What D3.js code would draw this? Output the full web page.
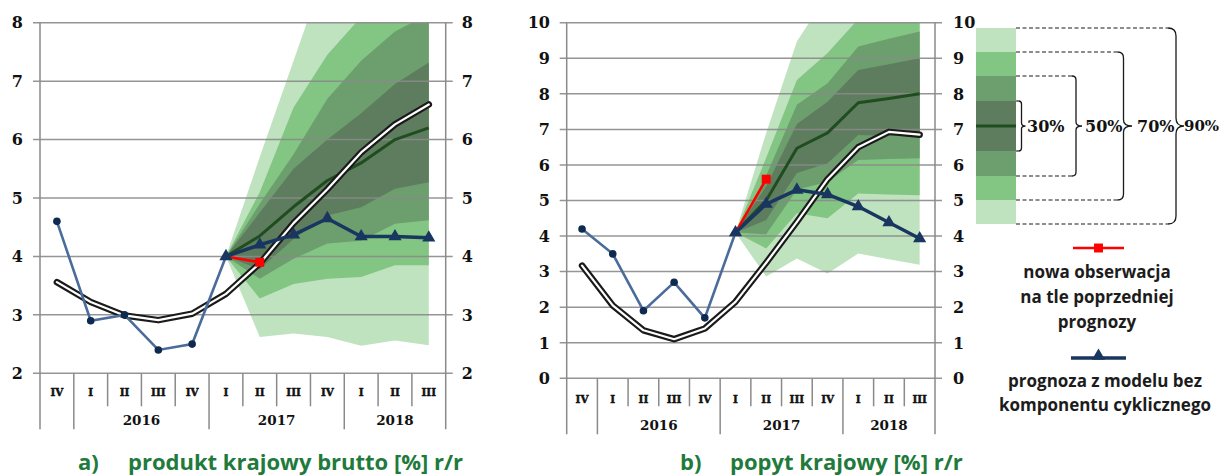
<!DOCTYPE html>
<html>
<head>
<meta charset="utf-8">
<script src="https://cdn.jsdelivr.net/npm/d3@7"></script>
<style>
  body { margin: 0; background: #ffffff; }
  svg { display: block; }
  .num { font-family: "DejaVu Serif", serif; font-weight: bold; fill: #111; }
  .cat { font-family: "DejaVu Serif Condensed", "DejaVu Serif", serif; font-weight: bold; fill: #111; stroke: #111; stroke-width: 0.45; }
  .sans { font-family: "Open Sans", "DejaVu Sans", sans-serif; font-weight: bold; }
</style>
</head>
<body>
<svg id="chart" width="1224" height="476"></svg>
<script>
// ---- categories ----
const quarters = ["IV", "I", "II", "III", "IV", "I", "II", "III", "IV", "I", "II", "III"];
const years = ["2016", "2017", "2018"];
const yearFirstQuarter = [1, 5, 9];   // index of the first quarter of each year
const fanStart = 5;                   // forecast fan begins at 2017 Q1

// ---- a) GDP y/y [%] ----
const gdpTicks   = [2, 3, 4, 5, 6, 7, 8];
const gdpActual  = [4.6, 2.9, 3.0, 2.4, 2.5, 4.0];
const gdpTrend   = [3.56, 3.22, 2.99, 2.91, 3.02, 3.36, 3.88, 4.57, 5.15, 5.78, 6.26, 6.60];
const gdpNoCycle = [4.0, 4.2, 4.37, 4.65, 4.34, 4.34, 4.32];
const gdpNewObs  = [4.0, 3.9];
const gdpMedian  = [4.0, 4.35, 4.85, 5.3, 5.6, 6.0, 6.2];
const gdp90Low   = [4.0, 2.62, 2.68, 2.62, 2.47, 2.56, 2.48];
const gdp90High  = [4.0, 5.7, 7.35, 9.0, 10.0, 10.5, 11.0];
const gdp70Low   = [4.0, 3.28, 3.53, 3.62, 3.65, 3.85, 3.85];
const gdp70High  = [4.0, 5.1, 6.55, 7.45, 8.1, 8.6, 9.0];
const gdp50Low   = [4.0, 3.62, 3.96, 4.22, 4.27, 4.56, 4.62];
const gdp50High  = [4.0, 4.9, 5.75, 6.7, 7.35, 7.85, 8.15];
const gdp30Low   = [4.0, 3.78, 4.3, 4.7, 4.84, 5.16, 5.27];
const gdp30High  = [4.0, 4.75, 5.5, 6.0, 6.45, 6.95, 7.32];

// ---- b) domestic demand y/y [%] ----
const ddTicks   = [0, 1, 2, 3, 4, 5, 6, 7, 8, 9, 10];
const ddActual  = [4.2, 3.5, 1.9, 2.7, 1.7, 4.1];
const ddTrend   = [3.17, 2.05, 1.35, 1.1, 1.4, 2.15, 3.25, 4.4, 5.6, 6.5, 6.93, 6.85];
const ddNoCycle = [4.1, 4.9, 5.3, 5.17, 4.83, 4.38, 3.93];
const ddNewObs  = [4.1, 5.6];
const ddMedian  = [4.1, 5.0, 6.47, 6.9, 7.75, 7.87, 8.0];
const dd90Low   = [4.1, 2.86, 3.37, 2.95, 3.51, 3.35, 3.19];
const dd90High  = [4.1, 6.9, 9.47, 10.8, 11.5, 12.0, 12.5];
const dd70Low   = [4.1, 3.65, 4.64, 4.5, 5.2, 5.17, 5.15];
const dd70High  = [4.1, 6.2, 8.39, 9.15, 10.1, 10.5, 10.8];
const dd50Low   = [4.1, 4.05, 5.3, 5.53, 6.14, 6.17, 6.19];
const dd50High  = [4.1, 5.7, 7.69, 8.3, 9.33, 9.55, 9.75];
const dd30Low   = [4.1, 4.45, 5.77, 6.05, 6.84, 6.82, 6.8];
const dd30High  = [4.1, 5.4, 7.15, 7.78, 8.67, 8.83, 9.0];

// ---- legend ----
const bandLevels = ["90%", "70%", "50%", "30%"];
const legendNewObs = ["nowa obserwacja", "na tle poprzedniej", "prognozy"];
const legendNoCycle = ["prognoza z modelu bez", "komponentu cyklicznego"];

// ---- styling ----
const bandColors = { "90%": "#bfe2bf", "70%": "#83c583", "50%": "#6d9e6d", "30%": "#5e7d5e" };
const gridColor = "#8a8a8a";
const medianColor = "#1f4d20";
const actualColor = "#4b6c9b";
const markerColor = "#0e2a4e";
const navy = "#18365f";
const red = "#ff0000";
const titleColor = "#1f7a3c";

const svg = d3.select("#chart");

function drawPanel(cfg) {
  const g = svg.append("g");
  const x = d3.scaleBand().domain(d3.range(quarters.length)).range([cfg.x0, cfg.x1]);
  const y = d3.scaleLinear().domain(cfg.domain).range([cfg.yBottom, cfg.yTop]);
  const bw = x.bandwidth();
  const cx = i => x(i) + bw / 2;

  const clipId = "clip-" + cfg.id;
  svg.append("clipPath").attr("id", clipId)
    .append("rect")
    .attr("x", cfg.x0).attr("y", cfg.yTop)
    .attr("width", cfg.x1 - cfg.x0).attr("height", cfg.yBottom - cfg.yTop);

  // forecast fan, widest band first
  const fanArea = d3.area()
    .x((d, i) => cx(fanStart + i))
    .y0(d => y(d[0]))
    .y1(d => y(d[1]));
  const fan = g.append("g").attr("clip-path", `url(#${clipId})`);
  bandLevels.forEach(level => {
    const [lo, hi] = cfg.bands[level];
    fan.append("path")
      .datum(lo.map((v, i) => [v, hi[i]]))
      .attr("d", fanArea)
      .attr("fill", bandColors[level]);
  });

  // horizontal gridlines with outer ticks on both sides
  g.append("g").selectAll("line").data(cfg.ticks).join("line")
    .attr("x1", cfg.x0 - 7).attr("x2", cfg.x1 + 7)
    .attr("y1", d => y(d)).attr("y2", d => y(d))
    .attr("stroke", gridColor).attr("stroke-width", 1.5)
    .attr("stroke-opacity", 0.9);

  // y tick labels, left and right
  g.append("g").selectAll("text").data(cfg.ticks).join("text")
    .attr("class", "num")
    .attr("x", cfg.x0 - cfg.labelGapLeft).attr("y", d => y(d))
    .attr("dy", "0.36em").attr("text-anchor", "end")
    .attr("font-size", 16).text(d => d);
  g.append("g").selectAll("text").data(cfg.ticks).join("text")
    .attr("class", "num")
    .attr("x", cfg.x1 + cfg.labelGapRight).attr("y", d => y(d))
    .attr("dy", "0.36em").attr("text-anchor", "start")
    .attr("font-size", 16).text(d => d);

  // category axis: quarter separators, longer at year boundaries
  const boundaries = d3.range(quarters.length + 1);
  const isLong = b => b === 0 || b === quarters.length || yearFirstQuarter.includes(b);
  g.append("g").selectAll("line").data(boundaries).join("line")
    .attr("x1", b => cfg.x0 + b * bw).attr("x2", b => cfg.x0 + b * bw)
    .attr("y1", b => (b === 0 || b === quarters.length) ? cfg.yTop : cfg.yBottom)
    .attr("y2", b => cfg.yBottom + (isLong(b) ? cfg.longSep : cfg.shortSep))
    .attr("stroke", gridColor).attr("stroke-width", 1.5);

  g.append("g").selectAll("text").data(quarters).join("text")
    .attr("class", "cat")
    .attr("x", (d, i) => cx(i)).attr("y", cfg.yBottom + cfg.quarterOffset)
    .attr("text-anchor", "middle").attr("font-size", 11.5)
    .text(d => d);

  g.append("g").selectAll("text").data(years).join("text")
    .attr("class", "num")
    .attr("x", (d, k) => {
      const first = yearFirstQuarter[k];
      const last = k + 1 < yearFirstQuarter.length ? yearFirstQuarter[k + 1] : quarters.length;
      return (x(first) + x(last - 1) + bw) / 2;
    })
    .attr("y", cfg.yBottom + cfg.yearOffset)
    .attr("text-anchor", "middle").attr("font-size", 13.5)
    .text(d => d);

  const line = d3.line().x(d => cx(d.i)).y(d => y(d.v));
  const withIndex = (arr, start) => arr.map((v, k) => ({ i: start + k, v }));

  // median of the fan
  g.append("path").datum(withIndex(cfg.median, fanStart))
    .attr("d", line).attr("fill", "none")
    .attr("stroke", medianColor).attr("stroke-width", 3)
    .attr("stroke-linejoin", "round");

  // trend path: black outline with white core
  const trend = withIndex(cfg.trend, 0);
  g.append("path").datum(trend).attr("d", line).attr("fill", "none")
    .attr("stroke", "#1a1a1a").attr("stroke-width", 6.5)
    .attr("stroke-linejoin", "round").attr("stroke-linecap", "round");
  g.append("path").datum(trend).attr("d", line).attr("fill", "none")
    .attr("stroke", "#ffffff").attr("stroke-width", 2.2)
    .attr("stroke-linejoin", "round").attr("stroke-linecap", "round");

  // observed data
  const actual = withIndex(cfg.actual, 0);
  g.append("path").datum(actual).attr("d", line).attr("fill", "none")
    .attr("stroke", actualColor).attr("stroke-width", 2.6);
  g.append("g").selectAll("circle").data(actual.slice(0, -1)).join("circle")
    .attr("cx", d => cx(d.i)).attr("cy", d => y(d.v)).attr("r", 3.8)
    .attr("fill", markerColor);

  // new observation vs previous forecast
  const newObs = withIndex(cfg.newObs, fanStart);
  g.append("path").datum(newObs).attr("d", line).attr("fill", "none")
    .attr("stroke", red).attr("stroke-width", 2.5);
  g.append("g").selectAll("path").data(newObs.slice(1)).join("path")
    .attr("d", d3.symbol(d3.symbolSquare, 80))
    .attr("transform", d => `translate(${cx(d.i)},${y(d.v)})`)
    .attr("fill", red);

  // forecast without the cyclical component
  const noCycle = withIndex(cfg.noCycle, fanStart);
  g.append("path").datum(noCycle).attr("d", line).attr("fill", "none")
    .attr("stroke", navy).attr("stroke-width", 3.5).attr("stroke-linejoin", "round");
  g.append("g").selectAll("path").data(noCycle).join("path")
    .attr("d", d3.symbol(d3.symbolTriangle, 75))
    .attr("transform", d => `translate(${cx(d.i)},${y(d.v)})`)
    .attr("fill", navy);

  // panel title
  const title = g.append("text").attr("class", "sans")
    .attr("y", 470).attr("font-size", 22).attr("fill", titleColor);
  title.append("tspan").attr("x", cfg.titleX).text(cfg.titleLetter);
  title.append("tspan").attr("x", cfg.titleX + 50).text(cfg.title);
}

drawPanel({
  id: "gdp", x0: 40, x1: 445.7, yTop: 22.7, yBottom: 373.3, domain: [2, 8],
  ticks: gdpTicks, labelGapLeft: 17, labelGapRight: 16,
  shortSep: 33, longSep: 56, quarterOffset: 23, yearOffset: 52,
  actual: gdpActual, trend: gdpTrend, noCycle: gdpNoCycle, newObs: gdpNewObs, median: gdpMedian,
  bands: { "90%": [gdp90Low, gdp90High], "70%": [gdp70Low, gdp70High],
           "50%": [gdp50Low, gdp50High], "30%": [gdp30Low, gdp30High] },
  titleX: 78, titleLetter: "a)", title: "produkt krajowy brutto [%] r/r"
});

drawPanel({
  id: "dd", x0: 566.7, x1: 935, yTop: 22.7, yBottom: 378.3, domain: [0, 10],
  ticks: ddTicks, labelGapLeft: 16.7, labelGapRight: 18,
  shortSep: 28, longSep: 56, quarterOffset: 25, yearOffset: 52,
  actual: ddActual, trend: ddTrend, noCycle: ddNoCycle, newObs: ddNewObs, median: ddMedian,
  bands: { "90%": [dd90Low, dd90High], "70%": [dd70Low, dd70High],
           "50%": [dd50Low, dd50High], "30%": [dd30Low, dd30High] },
  titleX: 680, titleLetter: "b)", title: "popyt krajowy [%] r/r"
});

// ---- fan legend ----
const leg = svg.append("g");
const barX = 976, barW = 40, barMid = 126;
const bandGeom = {
  "90%": { half: 98, xv: 1176, tip: 1184, r: 8, labelX: 1184, dashed: true },
  "70%": { half: 74, xv: 1123.5, tip: 1132, r: 6, labelX: 1137, dashed: true },
  "50%": { half: 50, xv: 1076, tip: 1082, r: 4, labelX: 1085, dashed: true },
  "30%": { half: 25, xv: 1021.5, tip: 1025.5, r: 3, labelX: 1027, dashed: false }
};
bandLevels.forEach(level => {
  const b = bandGeom[level];
  leg.append("rect")
    .attr("x", barX).attr("y", barMid - b.half)
    .attr("width", barW).attr("height", 2 * b.half)
    .attr("fill", bandColors[level]);
});
leg.append("line")
  .attr("x1", barX).attr("x2", barX + barW)
  .attr("y1", barMid).attr("y2", barMid)
  .attr("stroke", medianColor).attr("stroke-width", 3);

bandLevels.forEach(level => {
  const b = bandGeom[level];
  const yt = barMid - b.half, yb = barMid + b.half, x0 = barX + barW;
  [yt, yb].forEach(yy => {
    leg.append("line")
      .attr("x1", x0).attr("x2", b.xv - b.r)
      .attr("y1", yy).attr("y2", yy)
      .attr("stroke", "#1a1a1a").attr("stroke-width", 1.2)
      .attr("stroke-dasharray", b.dashed ? "4,2.5" : null);
  });
  const p = d3.path();
  p.moveTo(b.xv - b.r, yt);
  p.quadraticCurveTo(b.xv, yt, b.xv, yt + b.r);
  p.lineTo(b.xv, barMid - b.r);
  p.quadraticCurveTo(b.xv, barMid, b.tip, barMid);
  p.quadraticCurveTo(b.xv, barMid, b.xv, barMid + b.r);
  p.lineTo(b.xv, yb - b.r);
  p.quadraticCurveTo(b.xv, yb, b.xv - b.r, yb);
  leg.append("path").attr("d", p.toString())
    .attr("fill", "none").attr("stroke", "#1a1a1a").attr("stroke-width", 1.3);
  leg.append("text").attr("class", "num")
    .attr("x", b.labelX).attr("y", barMid).attr("dy", "0.36em")
    .attr("font-size", level === "90%" ? 15 : 16).text(level);
});

// ---- series legend ----
leg.append("line").attr("x1", 1073).attr("x2", 1124).attr("y1", 248).attr("y2", 248)
  .attr("stroke", red).attr("stroke-width", 2.5);
leg.append("path").attr("d", d3.symbol(d3.symbolSquare, 80))
  .attr("transform", "translate(1098.5,248)").attr("fill", red);
leg.append("g").selectAll("text").data(legendNewObs).join("text")
  .attr("class", "sans").attr("fill", "#1c1c1c")
  .attr("x", 1097).attr("y", (d, i) => 278 + i * 25)
  .attr("text-anchor", "middle").attr("font-size", 17).text(d => d);

leg.append("line").attr("x1", 1071).attr("x2", 1126).attr("y1", 358).attr("y2", 358)
  .attr("stroke", navy).attr("stroke-width", 3.5);
leg.append("path").attr("d", d3.symbol(d3.symbolTriangle, 75))
  .attr("transform", "translate(1098.5,356)").attr("fill", navy);
leg.append("g").selectAll("text").data(legendNoCycle).join("text")
  .attr("class", "sans").attr("fill", "#1c1c1c")
  .attr("x", 1105).attr("y", (d, i) => 387 + i * 24)
  .attr("text-anchor", "middle").attr("font-size", 17).text(d => d);
</script>
</body>
</html>
